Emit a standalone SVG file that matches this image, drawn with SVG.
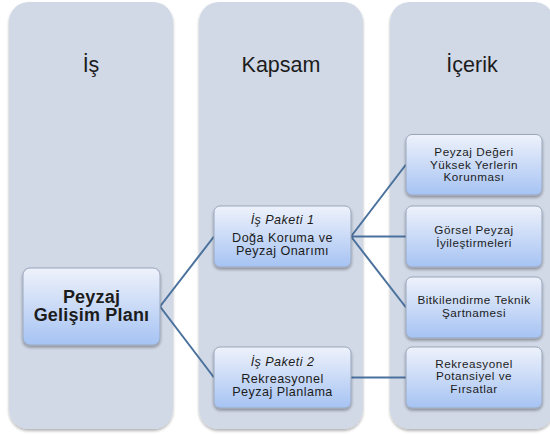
<svg xmlns="http://www.w3.org/2000/svg" width="550" height="434" viewBox="0 0 550 434">
<style>
.col{fill:#d1d8e6;}
.box{fill:url(#bg);stroke:#9aa7bb;stroke-width:1;}
.t{font-family:"Liberation Sans",Arial,sans-serif;fill:#1c1c1c;text-anchor:middle;}
.title{font-size:21.5px;}
.main{font-size:18px;font-weight:bold;letter-spacing:0.2px;}
.k{font-size:12.6px;letter-spacing:0.45px;}
.ki{font-size:12.6px;font-style:italic;letter-spacing:0.45px;}
.c{font-size:11.7px;letter-spacing:0.5px;}
.edge{stroke:#4a719d;stroke-width:2;fill:none;}
</style>
<defs>
<linearGradient id="bg" x1="0" y1="0" x2="0" y2="1">
<stop offset="0" stop-color="#eef2fb"/>
<stop offset="1" stop-color="#a6c3f3"/>
</linearGradient>
<filter id="sh" x="-10%" y="-10%" width="120%" height="130%">
<feGaussianBlur in="SourceAlpha" stdDeviation="1.5"/>
<feOffset dy="2" result="b"/>
<feComponentTransfer><feFuncA type="linear" slope="0.35"/></feComponentTransfer>
<feMerge><feMergeNode/><feMergeNode in="SourceGraphic"/></feMerge>
</filter>
<filter id="csh" x="-5%" y="-5%" width="110%" height="110%">
<feGaussianBlur in="SourceAlpha" stdDeviation="1.5"/>
<feOffset dy="2"/>
<feComponentTransfer><feFuncA type="linear" slope="0.3"/></feComponentTransfer>
<feMerge><feMergeNode/><feMergeNode in="SourceGraphic"/></feMerge>
</filter>
</defs>
<rect width="550" height="434" fill="#ffffff"/>
<g id="columns">
<g id="col-is"><rect class="col" x="9" y="2" width="164" height="427" rx="20" filter="url(#csh)"/><text class="t title" x="91" y="72">İş</text></g>
<g id="col-kapsam"><rect class="col" x="199" y="2" width="164" height="427" rx="20" filter="url(#csh)"/><text class="t title" x="281" y="72">Kapsam</text></g>
<g id="col-icerik"><rect class="col" x="390" y="2" width="164" height="427" rx="20" filter="url(#csh)"/><text class="t title" x="472" y="72">İçerik</text></g>
</g>
<g id="connectors">
<path class="edge" d="M160 306.5 L214 236.5"/>
<path class="edge" d="M160 306.5 L214 377.5"/>
<path class="edge" d="M351 236.5 L406 164.5"/>
<path class="edge" d="M351 236.5 L406 236.5"/>
<path class="edge" d="M351 236.5 L406 307.5"/>
<path class="edge" d="M351 377.5 L406 377.5"/>
</g>
<g id="n-peyzaj"><rect class="box" x="23" y="268" width="137" height="77" rx="7" filter="url(#sh)"/>
<text class="t main" x="91.5" y="302.5">Peyzaj</text><text class="t main" x="91.5" y="320.5">Gelişim Planı</text></g>
<g id="n-paket1"><rect class="box" x="214" y="206" width="137" height="61" rx="6" filter="url(#sh)"/>
<text class="t ki" x="282.5" y="224">İş Paketi 1</text><text class="t k" x="282.5" y="241.8">Doğa Koruma ve</text><text class="t k" x="282.5" y="254.6">Peyzaj Onarımı</text></g>
<g id="n-paket2"><rect class="box" x="214" y="347" width="137" height="61" rx="6" filter="url(#sh)"/>
<text class="t ki" x="282.5" y="366">İş Paketi 2</text><text class="t k" x="282.5" y="383.3">Rekreasyonel</text><text class="t k" x="282.5" y="396.1">Peyzaj Planlama</text></g>
<g id="n-ic1"><rect class="box" x="406" y="134.5" width="136" height="60.5" rx="6" filter="url(#sh)"/>
<text class="t c" x="474" y="156">Peyzaj Değeri</text><text class="t c" x="474" y="168.6">Yüksek Yerlerin</text><text class="t c" x="474" y="181.2">Korunması</text></g>
<g id="n-ic2"><rect class="box" x="406" y="206" width="136" height="61" rx="6" filter="url(#sh)"/>
<text class="t c" x="474" y="234">Görsel Peyzaj</text><text class="t c" x="474" y="246.6">İyileştirmeleri</text></g>
<g id="n-ic3"><rect class="box" x="406" y="277" width="136" height="61" rx="6" filter="url(#sh)"/>
<text class="t c" x="474" y="304">Bitkilendirme Teknik</text><text class="t c" x="474" y="316.6">Şartnamesi</text></g>
<g id="n-ic4"><rect class="box" x="406" y="347" width="136" height="61" rx="6" filter="url(#sh)"/>
<text class="t c" x="474" y="367.6">Rekreasyonel</text><text class="t c" x="474" y="380.2">Potansiyel ve</text><text class="t c" x="474" y="392.8">Fırsatlar</text></g>
</svg>
